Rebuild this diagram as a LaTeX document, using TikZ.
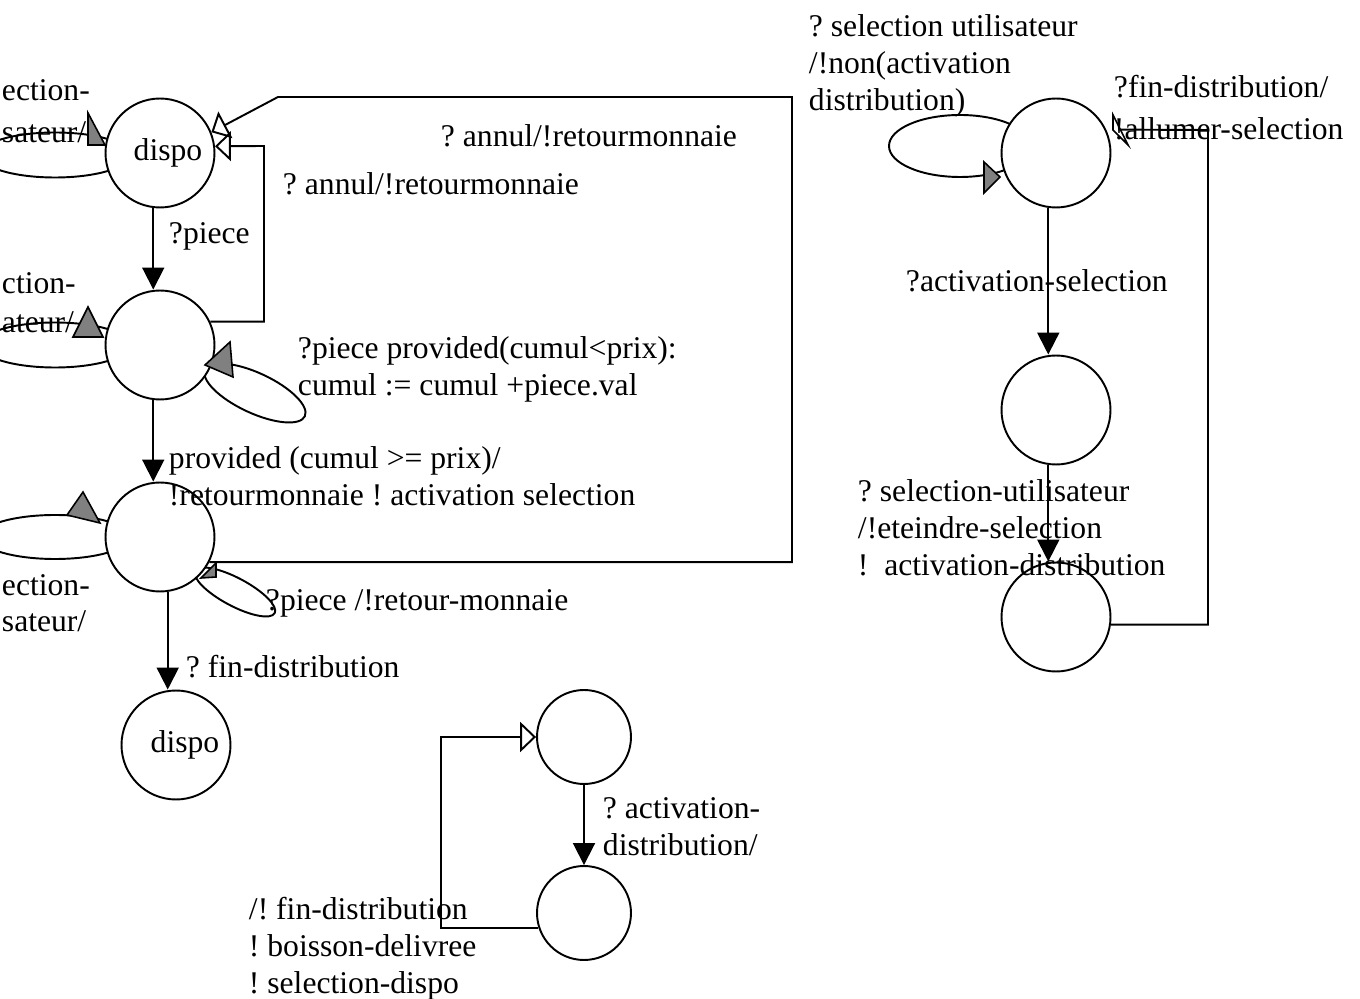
\documentclass[tikz,border=0pt]{standalone}
\usepackage{fontspec}
\setmainfont[Ligatures=NoCommon]{Liberation Serif}
\usetikzlibrary{arrows.meta}
\frenchspacing
\begin{document}
\begin{tikzpicture}[x=0.02cm, y=-0.02cm, line width=1.1pt,
  stnode/.style={circle, draw, fill=white, minimum size=2.18cm, inner sep=0pt},
  smallnode/.style={stnode, minimum size=1.88cm},
  txt/.style={font=\fontsize{18pt}{21pt}\selectfont, inner sep=0pt},
  lbl/.style={txt, align=left, anchor=north west},
  fwdarr/.style={-{Triangle[length=12.5pt,width=12.5pt]}},
  backarr/.style={-{Triangle[open,length=9pt,width=17pt]}},
  loophead/.style={fill=gray, draw=black, line width=0.9pt, line join=miter},
]
\useasboundingbox (0,0) rectangle (1360,999);
\clip (0,0) rectangle (1360,999);

% self loops, drawn first so the states hide their inner part
\draw (55,155) ellipse [x radius=75, y radius=22.5];
\draw (55,345) ellipse [x radius=75, y radius=22.5];
\draw (55,537) ellipse [x radius=75, y radius=22];
\draw[rotate around={-25:(255,393)}] (255,393) ellipse [x radius=55, y radius=20];
\draw[rotate around={-28:(235,592)}] (235,592) ellipse [x radius=45, y radius=14];
\draw (960,146) ellipse [x radius=71, y radius=31];

% states
\node[stnode, label={[txt, xshift=0.16cm]center:dispo}] (c1) at (160,153) {};
\node[stnode] (c2) at (160,345) {};
\node[stnode] (c3) at (160,537) {};
\node[stnode, label={[txt, xshift=0.18cm]center:dispo}] (c4) at (176,745) {};
\node[stnode] (r1) at (1056,153) {};
\node[stnode] (r2) at (1056,410) {};
\node[stnode] (r3) at (1056,617) {};
\node[smallnode] (b1) at (584,737) {};
\node[smallnode] (b2) at (584,913) {};

% heads of the self loops
\filldraw[loophead] (88,113) -- (88,145) -- (105,145) -- cycle;
\filldraw[loophead] (88,307) -- (73,337) -- (103,337) -- cycle;
\filldraw[loophead] (230,342) -- (205,365) -- (233,377) -- cycle;
\filldraw[loophead] (83,492) -- (67,515) -- (100,523) -- cycle;
\filldraw[loophead] (216,563) -- (216,577) -- (201,578) -- cycle;
\filldraw[loophead] (984,162) -- (984,193) -- (1000,177) -- cycle;

% straight transitions
\draw[fwdarr] (c1.263) -- (c1.263 |- c2.north);
\draw[fwdarr] (c2.263) -- (c2.263 |- c3.north);
\draw[fwdarr] (c3.278) -- (c3.278 |- c4.north);
\draw[fwdarr] (r1.262) -- (r1.262 |- r2.north);
\draw[fwdarr] (r2.262) -- (r2.262 |- r3.north);
\draw[fwdarr] (b1.south) -- (b2.north);

% return transitions
\coordinate (ca) at (792,97);
\coordinate (cb) at (278,97);
\draw[backarr] (c3.-27) -| (ca) -- (cb) -- (c1.22);
\coordinate (cc) at (264,146);
\draw[backarr] (c2.25) -| (cc) -- (c1.7);
\coordinate (cd) at (1208,130);
\draw[shorten >=0.15cm] (r3.-8) -| (cd) -- (r1.25);
\filldraw[fill=white, line width=0.9pt] (1113,115) -- (1113,130) -- (1128,145) -- cycle;
\coordinate (ce) at (441,737);
\draw[backarr] (b2.198) -| (ce) -- (b1.west);

% guards and actions
\node[lbl] (t1) at (1,79) {ection-};
\node[lbl] (t2) at (1,121) {sateur/};
\node[lbl] (t3) at (1,272) {ction-};
\node[lbl] (t4) at (1,311) {ateur/};
\node[lbl] (t5) at (1,574) {ection-};
\node[lbl] (t6) at (1,610) {sateur/};
\node[lbl] (t7) at (168,222) {?piece};
\node[lbl] (t8) at (282,172) {? annul/!retourmonnaie};
\node[lbl] (t9) at (440,124) {? annul/!retourmonnaie};
\node[lbl] (t10) at (297,336) {?piece provided(cumul<prix):\\cumul := cumul +piece.val};
\node[lbl] (t11) at (168,446) {provided (cumul >= prix)/\\!retourmonnaie ! activation selection};
\node[lbl] (t12) at (265,589) {?piece /!retour-monnaie};
\node[lbl] (t13) at (185,654) {? fin-distribution};
\node[lbl] (t14) at (808,14) {? selection utilisateur\\/!non(activation\\distribution)};
\node[lbl] (t15) at (1113,74) {?fin-distribution/\\[3pt]!allumer-selection};
\node[lbl] (t16) at (905,269) {?activation-selection};
\node[lbl] (t17) at (857,479) {? selection-utilisateur\\/!eteindre-selection\\!\ \ activation-distribution};
\node[lbl] (t18) at (602,797) {? activation-\\distribution/};
\node[lbl] (t19) at (248,896) {/! fin-distribution\\! boisson-delivree\\! selection-dispo};
\end{tikzpicture}
\end{document}
